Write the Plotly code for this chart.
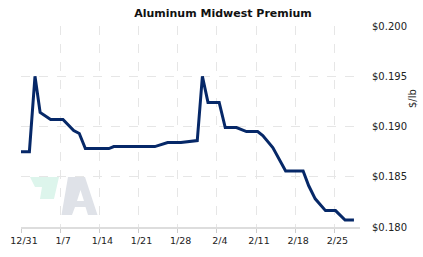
import plotly.graph_objects as go

title = "Aluminum Midwest Premium"
dates = ["2018-12-31 00:00", "2019-01-01 12:00", "2019-01-02 12:00", "2019-01-03 10:00",
         "2019-01-05 07:00", "2019-01-07 12:00", "2019-01-09 10:00", "2019-01-10 10:00",
         "2019-01-11 12:00", "2019-01-15 17:00", "2019-01-16 14:00", "2019-01-23 22:00",
         "2019-01-26 05:00", "2019-01-28 14:00", "2019-01-31 12:00", "2019-02-01 10:00",
         "2019-02-02 10:00", "2019-02-04 10:00", "2019-02-05 12:00", "2019-02-07 12:00",
         "2019-02-09 07:00", "2019-02-11 07:00", "2019-02-12 05:00", "2019-02-14 00:00",
         "2019-02-16 07:00", "2019-02-19 10:00", "2019-02-20 10:00", "2019-02-21 14:00",
         "2019-02-23 10:00", "2019-02-25 05:00", "2019-02-26 22:00", "2019-02-28 12:00"]
prices = [0.1875, 0.1875, 0.1950, 0.1914,
          0.1907, 0.1907, 0.1896, 0.1893,
          0.1878, 0.1878, 0.1880, 0.1880,
          0.1884, 0.1884, 0.1886, 0.1950,
          0.1924, 0.1924, 0.1899, 0.1899,
          0.1895, 0.1895, 0.1891, 0.1879,
          0.18557, 0.18557, 0.1841, 0.1828,
          0.18163, 0.18163, 0.1807, 0.1807]
x_tick_vals = ["2018-12-31", "2019-01-07", "2019-01-14", "2019-01-21", "2019-01-28",
               "2019-02-04", "2019-02-11", "2019-02-18", "2019-02-25"]
x_tick_text = ["12/31", "1/7", "1/14", "1/21", "1/28", "2/4", "2/11", "2/18", "2/25"]
y_tick_vals = [0.180, 0.185, 0.190, 0.195, 0.200]
y_tick_text = ["$0.180", "$0.185", "$0.190", "$0.195", "$0.200"]

W, H = 423, 257
L, R, T, B = 21, 63, 26, 30
pw, ph = W - L - R, H - T - B


def px(x, y):
    return (x - L) / pw, (H - B - y) / ph


def path(points):
    s = ""
    for i, (x, y) in enumerate(points):
        a, b = px(x, y)
        s += ("M" if i == 0 else "L") + f"{a:.4f},{b:.4f} "
    return s + "Z "


green = path([(30, 177), (59, 177), (54, 199), (40, 199), (42, 187), (35, 187)])
gray_a = path([(61.5, 215), (68, 177), (85, 177), (97.5, 215), (88, 215), (85.5, 207),
               (75, 207), (72, 215)]) + path([(77, 201), (84, 201), (80.5, 190)])

fig = go.Figure()
fig.add_trace(go.Scatter(x=dates, y=prices, mode="lines",
                         line=dict(color="#062868", width=3), hoverinfo="skip"))

font = "DejaVu Sans"
fig.update_layout(
    width=W, height=H,
    margin=dict(l=L, r=R, t=T, b=B, autoexpand=False),
    paper_bgcolor="white", plot_bgcolor="white",
    showlegend=False,
    font=dict(family=font, size=10, color="#222"),
    title=dict(text="<b>" + title + "</b>", x=223 / W, xanchor="center",
               y=1 - 13 / H, yanchor="middle", font=dict(size=11, color="#111")),
    xaxis=dict(type="date", range=["2018-12-31", "2019-03-01 14:00"],
               tickvals=x_tick_vals, ticktext=x_tick_text,
               showgrid=True, gridcolor="#e6e6e6", griddash="dash", gridwidth=1,
               showline=True, linecolor="#dddddd", linewidth=2,
               ticks="outside", ticklen=4, tickcolor="#cccccc", ticklabelshift=3,
               tickfont=dict(size=9.5), zeroline=False, automargin=False),
    yaxis=dict(range=[0.180, 0.200], side="right",
               tickvals=y_tick_vals, ticktext=y_tick_text,
               showgrid=True, gridcolor="#e6e6e6", griddash="dash", gridwidth=1,
               ticks="outside", ticklen=9, tickcolor="rgba(0,0,0,0)",
               tickfont=dict(size=10), zeroline=False, showline=False, automargin=False),
    shapes=[
        dict(type="path", xref="paper", yref="paper", path=green,
             fillcolor="#ddf5ec", line=dict(width=0), layer="below"),
        dict(type="path", xref="paper", yref="paper", path=gray_a,
             fillcolor="#dfe2e8", line=dict(width=0), layer="below"),
    ],
    annotations=[
        dict(text="$/lb", xref="paper", yref="paper", x=(412 - L) / pw, y=(H - B - 99) / ph,
             showarrow=False, textangle=-90, font=dict(size=10, color="#222"),
             xanchor="center", yanchor="middle"),
    ],
)

fig.write_html("out.html")
